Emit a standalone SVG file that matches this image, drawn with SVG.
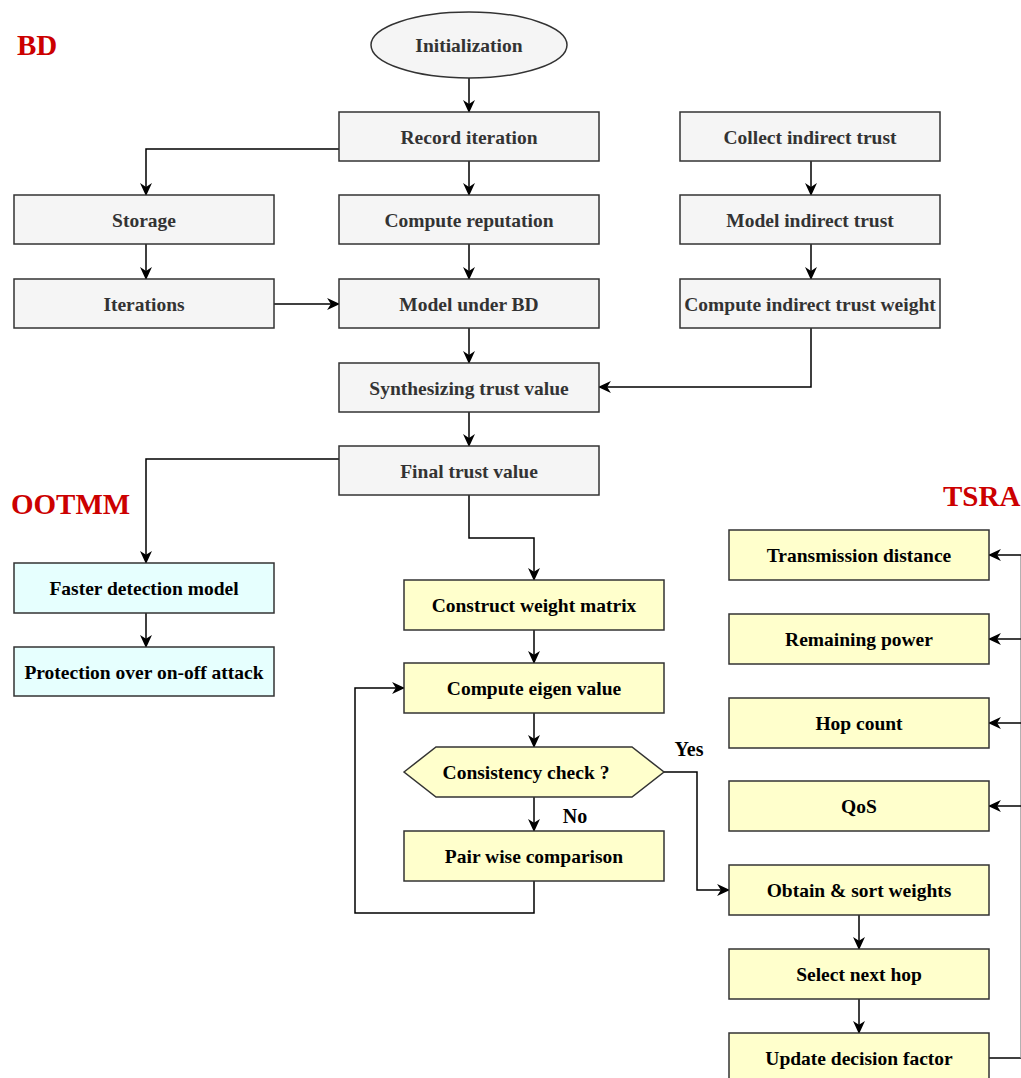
<svg xmlns="http://www.w3.org/2000/svg" width="1021" height="1078" viewBox="0 0 1021 1078">
<style>
.g rect,.g ellipse{fill:#f5f5f5;stroke:#333;stroke-width:1.5}
.y rect,.y polygon{fill:#ffffcc;stroke:#333;stroke-width:1.5}
.c rect{fill:#e6fffe;stroke:#333;stroke-width:1.5}
text{font-family:"Liberation Serif","Times New Roman",serif;font-weight:bold;font-size:19.5px;text-anchor:middle;dominant-baseline:central}
.g text{fill:#333}
.y text,.c text{fill:#000}
.t{fill:#cc0000;font-size:29px;text-anchor:start}
.lbl{fill:#000;font-size:20px}
#edges path{fill:none;stroke:#000;stroke-width:1.5}
</style>
<defs>
<marker id="a" viewBox="0 0 12 12" refX="11" refY="6" markerWidth="13" markerHeight="13" markerUnits="userSpaceOnUse" orient="auto">
<path d="M0,0.5 L12,6 L0,11.5 L3.5,6 Z" fill="#000"/>
</marker>
</defs>
<rect width="1021" height="1078" fill="#fff"/>
<text class="t" x="17" y="45">BD</text>
<text class="t" x="11" y="504">OOTMM</text>
<text class="t" x="943" y="496">TSRA</text>

<g id="edges">
<path d="M469,78 V112" marker-end="url(#a)"/>
<path d="M339,149 H146 V195" marker-end="url(#a)"/>
<path d="M469,161 V195" marker-end="url(#a)"/>
<path d="M811,161 V195" marker-end="url(#a)"/>
<path d="M146,244 V279" marker-end="url(#a)"/>
<path d="M469,244 V279" marker-end="url(#a)"/>
<path d="M811,244 V279" marker-end="url(#a)"/>
<path d="M274,304 H339" marker-end="url(#a)"/>
<path d="M469,328 V363" marker-end="url(#a)"/>
<path d="M811,328 V387 H599" marker-end="url(#a)"/>
<path d="M469,412 V446" marker-end="url(#a)"/>
<path d="M339,459 H146 V563" marker-end="url(#a)"/>
<path d="M146,613 V647" marker-end="url(#a)"/>
<path d="M469,495 V538 H534 V580" marker-end="url(#a)"/>
<path d="M534,630 V663" marker-end="url(#a)"/>
<path d="M534,713 V747" marker-end="url(#a)"/>
<path d="M534,797 V831" marker-end="url(#a)"/>
<path d="M664,772 H697 V890 H729" marker-end="url(#a)"/>
<path d="M534,881 V913 H355 V688 H404" marker-end="url(#a)"/>
<path d="M859,915 V949" marker-end="url(#a)"/>
<path d="M859,999 V1033" marker-end="url(#a)"/>
<path d="M989,1058 H1021"/>
<path d="M1021,1058 V555" style="stroke:#999"/>
<path d="M1021,555 H989" marker-end="url(#a)"/>
<path d="M1021,639 H989" marker-end="url(#a)"/>
<path d="M1021,723 H989" marker-end="url(#a)"/>
<path d="M1021,806 H989" marker-end="url(#a)"/>
<text class="lbl" x="689" y="749">Yes</text>
<text class="lbl" x="575" y="816">No</text>
</g>

<g id="init" class="g"><ellipse cx="469" cy="45" rx="98" ry="33"/><text x="469" y="45">Initialization</text></g>
<g id="record" class="g"><rect x="339" y="112" width="260" height="49"/><text x="469" y="137">Record iteration</text></g>
<g id="collect" class="g"><rect x="680" y="112" width="260" height="49"/><text x="810" y="137">Collect indirect trust</text></g>
<g id="storage" class="g"><rect x="14" y="195" width="260" height="49"/><text x="144" y="220">Storage</text></g>
<g id="reputation" class="g"><rect x="339" y="195" width="260" height="49"/><text x="469" y="220">Compute reputation</text></g>
<g id="modelind" class="g"><rect x="680" y="195" width="260" height="49"/><text x="810" y="220">Model indirect trust</text></g>
<g id="iterations" class="g"><rect x="14" y="279" width="260" height="49"/><text x="144" y="304">Iterations</text></g>
<g id="modelbd" class="g"><rect x="339" y="279" width="260" height="49"/><text x="469" y="304">Model under BD</text></g>
<g id="weight" class="g"><rect x="680" y="279" width="260" height="49"/><text x="810" y="304">Compute indirect trust weight</text></g>
<g id="synth" class="g"><rect x="339" y="363" width="260" height="49"/><text x="469" y="388">Synthesizing trust value</text></g>
<g id="final" class="g"><rect x="339" y="446" width="260" height="49"/><text x="469" y="471">Final trust value</text></g>
<g id="faster" class="c"><rect x="14" y="563" width="260" height="50"/><text x="144" y="588">Faster detection model</text></g>
<g id="protect" class="c"><rect x="14" y="647" width="260" height="49"/><text x="144" y="672">Protection over on-off attack</text></g>
<g id="construct" class="y"><rect x="404" y="580" width="260" height="50"/><text x="534" y="605">Construct weight matrix</text></g>
<g id="eigen" class="y"><rect x="404" y="663" width="260" height="50"/><text x="534" y="688">Compute eigen value</text></g>
<g id="consist" class="y"><polygon points="404,772 436,747 632,747 664,772 632,797 436,797"/><text x="526" y="772">Consistency check ?</text></g>
<g id="pair" class="y"><rect x="404" y="831" width="260" height="50"/><text x="534" y="856">Pair wise comparison</text></g>
<g id="trans" class="y"><rect x="729" y="530" width="260" height="50"/><text x="859" y="555">Transmission distance</text></g>
<g id="power" class="y"><rect x="729" y="614" width="260" height="50"/><text x="859" y="639">Remaining power</text></g>
<g id="hop" class="y"><rect x="729" y="698" width="260" height="50"/><text x="859" y="723">Hop count</text></g>
<g id="qos" class="y"><rect x="729" y="781" width="260" height="50"/><text x="859" y="806">QoS</text></g>
<g id="obtain" class="y"><rect x="729" y="865" width="260" height="50"/><text x="859" y="890">Obtain &amp; sort weights</text></g>
<g id="select" class="y"><rect x="729" y="949" width="260" height="50"/><text x="859" y="974">Select next hop</text></g>
<g id="update" class="y"><rect x="729" y="1033" width="260" height="50"/><text x="859" y="1058">Update decision factor</text></g>
</svg>
